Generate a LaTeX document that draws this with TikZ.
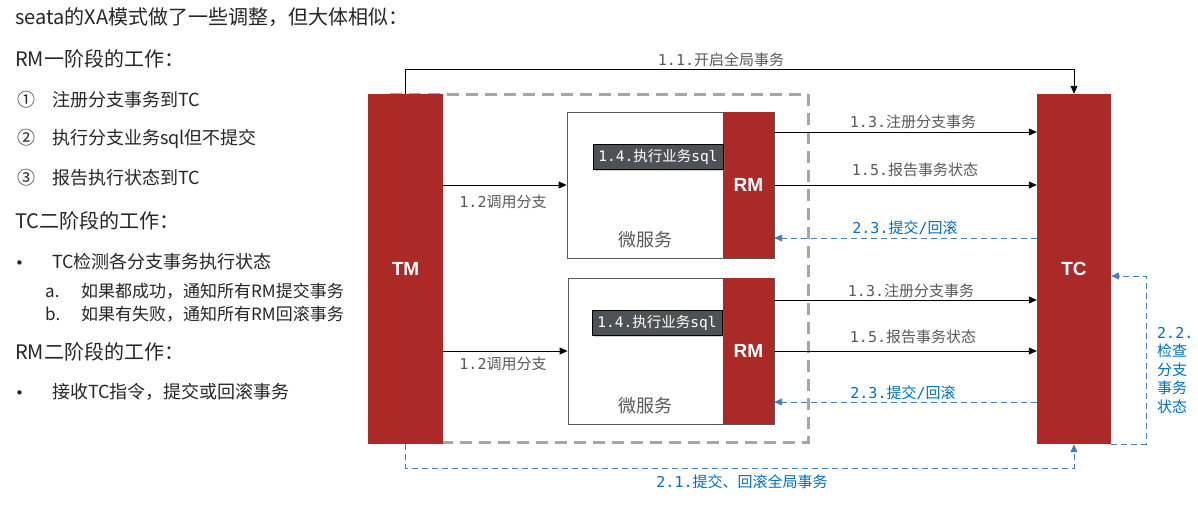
\documentclass[tikz,border=0pt]{standalone}
\usepackage{fontspec}
\setmainfont{Noto Sans CJK SC}
\newfontfamily\monof{DejaVu Sans Mono}
\newfontfamily\boxf{Liberation Sans}
\newfontfamily\dejaf{DejaVu Sans}
\usetikzlibrary{arrows.meta,shadows}
\definecolor{rmred}{RGB}{171,41,38}
\definecolor{lineblue}{RGB}{74,126,187}
\definecolor{textblue}{RGB}{0,112,192}
\definecolor{dashgray}{RGB}{166,166,166}
\definecolor{lblgray}{RGB}{89,89,89}
\definecolor{darklbl}{RGB}{77,83,84}
\definecolor{lefttxt}{RGB}{38,38,38}
\newcommand\mtx[1]{{\monof #1}}
\newcommand\bul{{\dejaf\fontsize{15}{18}\selectfont •}}
\tikzset{
  redbox/.style={fill=rmred,draw=none,text=white,font=\boxf\bfseries\fontsize{19}{22}\selectfont,inner sep=0},
  msbox/.style={draw=lblgray,line width=0.8pt,fill=white,inner sep=0},
  darkbox/.style={fill=darklbl,draw=black,line width=0.6pt,text=white,inner sep=2pt,
    minimum width=130,minimum height=25,font=\fontsize{14.5}{16}\selectfont,
    drop shadow={opacity=0.35,shadow xshift=1.5pt,shadow yshift=-1.5pt}},
  lbl/.style={inner sep=0,text=lblgray,font=\fontsize{15}{17}\selectfont},
  bluelbl/.style={inner sep=0,text=textblue,font=\fontsize{15}{17}\selectfont},
  blackarr/.style={draw=black,line width=0.9pt,-{Triangle[length=8pt,width=7pt]}},
  bluearr/.style={draw=lineblue,line width=0.9pt,dash pattern=on 6pt off 4pt,-{Triangle[length=8pt,width=7pt]}},
  graydash/.style={draw=dashgray,line width=3pt,dash pattern=on 12pt off 7pt},
  head/.style={inner sep=0,anchor=west,text=lefttxt,font=\fontsize{20}{24}\selectfont},
  item/.style={inner sep=0,anchor=west,text=lefttxt,font=\fontsize{18}{22}\selectfont},
  subitem/.style={inner sep=0,anchor=west,text=lefttxt,font=\fontsize{17}{20}\selectfont},
}
\begin{document}
\begin{tikzpicture}[x=1pt,y=-1pt]
\useasboundingbox (0,0) rectangle (1198,504);
\fill[white] (0,0) rectangle (1198,504);

% left text
\node[head] (t0) at (15,17) {seata的XA模式做了一些调整，但大体相似：};
\node[head] (t1) at (15,59) {RM一阶段的工作：};
\node[item] (t2) at (17,100) {\makebox[35pt][l]{①}注册分支事务到TC};
\node[item] (t3) at (17,139) {\makebox[35pt][l]{②}执行分支业务sql但不提交};
\node[item] (t4) at (17,178) {\makebox[35pt][l]{③}报告执行状态到TC};
\node[head] (t5) at (15,221) {TC二阶段的工作：};
\node[item] (t6) at (15,262) {\makebox[37pt][l]{\bul}TC检测各分支事务执行状态};
\node[subitem] (t7) at (45,291) {\makebox[36pt][l]{a.}如果都成功，通知所有RM提交事务};
\node[subitem] (t8) at (45,314) {\makebox[36pt][l]{b.}如果有失败，通知所有RM回滚事务};
\node[head] (t9) at (15,352) {RM二阶段的工作：};
\node[item] (t10) at (15,392) {\makebox[37pt][l]{\bul}接收TC指令，提交或回滚事务};

% dashed group
\draw[graydash] (390,94) rectangle (808,442);

% main boxes
\node[redbox,minimum width=75,minimum height=350] (tm) at (405.5,269) {TM};
\node[redbox,minimum width=74,minimum height=350] (tc) at (1074,269) {TC};

\node[msbox,minimum width=207,minimum height=146] (ms1) at (670.5,185) {};
\node[msbox,minimum width=206,minimum height=146] (ms2) at (671,351) {};
\node[redbox,minimum width=51,minimum height=146] (rm1) at (748.5,185) {RM};
\node[redbox,minimum width=51,minimum height=146] (rm2) at (748.5,351) {RM};
\node[darkbox] (ex1) at (658,156.5) {\mtx{1.4.}执行业务\mtx{sql}};
\node[darkbox] (ex2) at (657,322.5) {\mtx{1.4.}执行业务\mtx{sql}};
\node[inner sep=0,text=lblgray,font=\fontsize{18}{20}\selectfont] (w1) at (645,240) {微服务};
\node[inner sep=0,text=lblgray,font=\fontsize{18}{20}\selectfont] (w2) at (645,406) {微服务};

% 1.1
\coordinate (top) at (0,69);
\draw[blackarr] (tm.north) -- (tm.north |- top) -| (tc.north);
\node[lbl] (l11) at (721,60) {\mtx{1.1.}开启全局事务};

% 1.2
\draw[blackarr] (tm.east |- ms1.west) -- (ms1.west);
\node[lbl] (l12a) at (503,202) {\mtx{1.2}调用分支};
\draw[blackarr] (tm.east |- ms2.west) -- (ms2.west);
\node[lbl] (l12b) at (503,364) {\mtx{1.2}调用分支};

% upper RM <-> TC
\draw[blackarr] ([yshift=53pt]rm1.east) -- ([yshift=53pt]rm1.east -| tc.west);
\node[lbl] (l13a) at (913,122) {\mtx{1.3.}注册分支事务};
\draw[blackarr] (rm1.east) -- (rm1.east -| tc.west);
\node[lbl] (l15a) at (915,170) {\mtx{1.5.}报告事务状态};
\draw[bluearr] ([yshift=-53pt]rm1.east -| tc.west) -- ([yshift=-53pt]rm1.east);
\node[bluelbl] (l23a) at (905,228) {\mtx{2.3.}提交\mtx{/}回滚};

% lower RM <-> TC
\draw[blackarr] ([yshift=51pt]rm2.east) -- ([yshift=51pt]rm2.east -| tc.west);
\node[lbl] (l13b) at (911,291) {\mtx{1.3.}注册分支事务};
\draw[blackarr] (rm2.east) -- (rm2.east -| tc.west);
\node[lbl] (l15b) at (913,337) {\mtx{1.5.}报告事务状态};
\draw[bluearr] ([yshift=-51pt]rm2.east -| tc.west) -- ([yshift=-51pt]rm2.east);
\node[bluelbl] (l23b) at (903,393) {\mtx{2.3.}提交\mtx{/}回滚};

% 2.1
\coordinate (bot) at (0,468);
\draw[bluearr] (tm.south) -- (tm.south |- bot) -| (tc.south);
\node[bluelbl] (l21) at (742,482) {\mtx{2.1.}提交、回滚全局事务};

% 2.2
\draw[bluearr] (tc.south east) -- ++(35,0) |- ([yshift=-7pt]tc.east);
\node[bluelbl,anchor=north west,align=left,font=\fontsize{15}{18.5}\selectfont] (l22) at (1157,327) {\mtx{2.2.}\\检查\\分支\\事务\\状态};
\end{tikzpicture}
\end{document}
